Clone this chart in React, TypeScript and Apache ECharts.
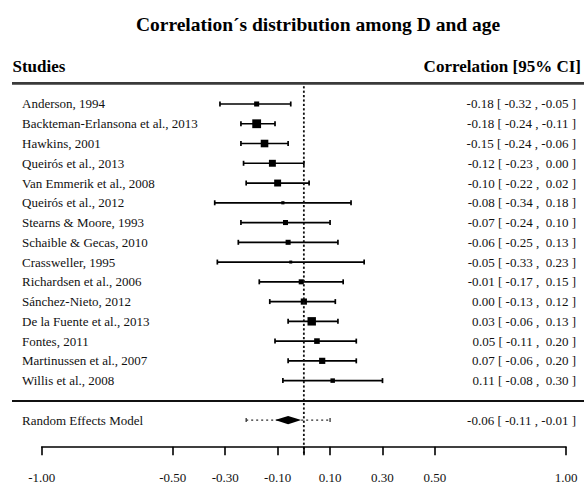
import React, { useEffect, useRef } from "react";
import * as echarts from "echarts";

const chartTitle = "Correlation\u00B4s distribution among D and age";
const leftHeader = "Studies";
const rightHeader = "Correlation [95% CI]";

const studies = [
  "Anderson, 1994",
  "Backteman-Erlansona et al., 2013",
  "Hawkins, 2001",
  "Queirós et al., 2013",
  "Van Emmerik et al., 2008",
  "Queirós et al., 2012",
  "Stearns & Moore, 1993",
  "Schaible & Gecas, 2010",
  "Crassweller, 1995",
  "Richardsen et al., 2006",
  "Sánchez-Nieto, 2012",
  "De la Fuente et al., 2013",
  "Fontes, 2011",
  "Martinussen et al., 2007",
  "Willis et al., 2008",
];
const estimates = [-0.18, -0.18, -0.15, -0.12, -0.1, -0.08, -0.07, -0.06, -0.05, -0.01, 0.0, 0.03, 0.05, 0.07, 0.11];
const ciLower = [-0.32, -0.24, -0.24, -0.23, -0.22, -0.34, -0.24, -0.25, -0.33, -0.17, -0.13, -0.06, -0.11, -0.06, -0.08];
const ciUpper = [-0.05, -0.11, -0.06, 0.0, 0.02, 0.18, 0.1, 0.13, 0.23, 0.15, 0.12, 0.13, 0.2, 0.2, 0.3];
// estimated relative weights (%)
const weights = [5.6, 9.6, 8.3, 7.6, 7.6, 3.6, 5.6, 5.6, 3.4, 5.6, 6.8, 9.2, 6.2, 6.8, 5.0];

const reLabel = "Random Effects Model";
const reEstimate = -0.06;
const reLower = -0.11;
const reUpper = -0.01;
const piLower = -0.22;
const piUpper = 0.1;

const xMin = -1;
const xMax = 1;
const xTickValues = [-1, -0.5, -0.3, -0.1, 0, 0.1, 0.3, 0.5, 1];
const xLabelValues = [-1, -0.5, -0.3, -0.1, 0.1, 0.3, 0.5, 1];

const FONT = "'Liberation Serif', 'Times New Roman', serif";
const RE_ROW = 16;
const AXIS_ROW = 17.35;
const Y_MIN = -1;
const Y_MAX = 18;

const GRID = { left: 41.7, right: 18, top: 84.24, bottom: 24.36, containLabel: false, outerBoundsMode: "none" };

const fmt = (v: number) => (v < 0 ? "-" + Math.abs(v).toFixed(2) : "\u00A0" + v.toFixed(2));
const ciText = (e: number, l: number, u: number) => `${fmt(e)} [ ${fmt(l)} , ${fmt(u)} ]`;

const layerStyle: React.CSSProperties = { width: 584, height: 484, position: "absolute", left: 0, top: 0 };

export default function App() {
  const mainRef = useRef<HTMLDivElement>(null);
  const axisRef = useRef<HTMLDivElement>(null);
  const zeroRef = useRef<HTMLDivElement>(null);

  useEffect(() => {
    if (!mainRef.current || !axisRef.current || !zeroRef.current) return;
    const chart = echarts.init(mainRef.current, undefined, { renderer: "svg" });
    const axisChart = echarts.init(axisRef.current, undefined, { renderer: "svg" });
    const zeroChart = echarts.init(zeroRef.current, undefined, { renderer: "svg" });

    const wMin = Math.min(...weights);
    const wMax = Math.max(...weights);
    const sizeOf = (w: number) => 3 + ((w - wMin) / (wMax - wMin)) * 5.8;

    const rowTexts = studies.map((s, i) => ({
      left: s,
      right: ciText(estimates[i], ciLower[i], ciUpper[i]),
      row: i,
    }));
    rowTexts.push({ left: reLabel, right: ciText(reEstimate, reLower, reUpper), row: RE_ROW });

    const mainOption: any = {
      animation: false,
      backgroundColor: "#fff",
      grid: GRID,
      xAxis: {
        type: "value",
        min: xMin,
        max: xMax,
        splitLine: { show: false },
        axisLine: { show: false },
        axisTick: { show: false },
        axisLabel: {
          customValues: xLabelValues,
          formatter: (v: number) => v.toFixed(2),
          fontFamily: FONT,
          fontSize: 13,
          color: "#111",
          margin: 11,
        },
      },
      yAxis: { type: "value", min: Y_MIN, max: Y_MAX, inverse: true, show: false },
      series: [
        {
          type: "custom",
          clip: false,
          silent: true,
          data: rowTexts.map((r) => [0, r.row]),
          renderItem: (params: any, api: any) => {
            const r = rowTexts[params.dataIndex];
            const y = api.coord([0, api.value(1)])[1];
            return {
              type: "group",
              children: [
                { type: "text", style: { text: r.left, x: 22, y, fill: "#111", font: `13px ${FONT}`, align: "left", verticalAlign: "middle" } },
                { type: "text", style: { text: r.right, x: 576, y, fill: "#111", font: `13px ${FONT}`, align: "right", verticalAlign: "middle" } },
              ],
            };
          },
        },
        {
          type: "custom",
          clip: false,
          silent: true,
          data: studies.map((_, i) => [ciLower[i], ciUpper[i], i]),
          encode: { x: [0, 1], y: 2 },
          renderItem: (params: any, api: any) => {
            const a = api.coord([api.value(0), api.value(2)]);
            const b = api.coord([api.value(1), api.value(2)]);
            const y = a[1];
            return {
              type: "group",
              children: [
                { type: "line", shape: { x1: a[0], y1: y, x2: b[0], y2: y }, style: { stroke: "#000", lineWidth: 1.7 } },
                { type: "line", shape: { x1: a[0], y1: y - 2.5, x2: a[0], y2: y + 2.5 }, style: { stroke: "#000", lineWidth: 1.7 } },
                { type: "line", shape: { x1: b[0], y1: y - 2.5, x2: b[0], y2: y + 2.5 }, style: { stroke: "#000", lineWidth: 1.7 } },
              ],
            };
          },
        },
        {
          type: "scatter",
          silent: true,
          clip: false,
          symbol: "rect",
          data: studies.map((_, i) => [estimates[i], i]),
          symbolSize: (_v: any, p: any) => sizeOf(weights[p.dataIndex]),
          itemStyle: { color: "#000", opacity: 1 },
          z: 3,
        },
        {
          type: "custom",
          clip: false,
          silent: true,
          data: [[piLower, piUpper, RE_ROW]],
          encode: { x: [0, 1], y: 2 },
          renderItem: (params: any, api: any) => {
            const a = api.coord([api.value(0), api.value(2)]);
            const b = api.coord([api.value(1), api.value(2)]);
            const y = a[1];
            const children: any[] = [
              { type: "rect", shape: { x: a[0] - 0.65, y: y - 2, width: 1.3, height: 4 }, style: { fill: "#333" } },
              { type: "rect", shape: { x: b[0] - 0.65, y: y - 2, width: 1.3, height: 4 }, style: { fill: "#333" } },
            ];
            for (let x = a[0]; x < b[0] - 1; x += 5) {
              children.push({ type: "rect", shape: { x, y: y - 0.65, width: 2, height: 1.3 }, style: { fill: "#333" } });
            }
            return { type: "group", children };
          },
        },
        {
          type: "custom",
          clip: false,
          silent: true,
          data: [[reLower, reEstimate, reUpper, RE_ROW]],
          encode: { x: [0, 1, 2], y: 3 },
          renderItem: (params: any, api: any) => {
            const l = api.coord([api.value(0), api.value(3)]);
            const m = api.coord([api.value(1), api.value(3)]);
            const u = api.coord([api.value(2), api.value(3)]);
            const y = l[1];
            return {
              type: "polygon",
              shape: { points: [[l[0], y], [m[0], y - 4.2], [u[0], y], [m[0], y + 4.2]] },
              style: { fill: "#000" },
              z2: 10,
            };
          },
          z: 4,
        },
      ],
      graphic: [
        {
          type: "text",
          style: { text: chartTitle, x: 318, y: 24, fill: "#000", font: `bold 19.5px ${FONT}`, align: "center", verticalAlign: "middle" },
        },
        {
          type: "text",
          style: { text: leftHeader, x: 12.5, y: 66, fill: "#000", font: `bold 17px ${FONT}`, align: "left", verticalAlign: "middle" },
        },
        {
          type: "text",
          style: { text: rightHeader, x: 581, y: 66, fill: "#000", font: `bold 17px ${FONT}`, align: "right", verticalAlign: "middle" },
        },
        { type: "rect", shape: { x: 12, y: 82.1, width: 572, height: 2.6 }, style: { fill: "#3a3a3a" } },
        { type: "rect", shape: { x: 12, y: 400.1, width: 572, height: 1.8 }, style: { fill: "#111" } },
      ],
    };
    chart.setOption(mainOption);

    // overlay layer: zero reference line (same grid and scales as the main chart)
    zeroChart.setOption({
      animation: false,
      grid: GRID,
      xAxis: { type: "value", min: xMin, max: xMax, show: false },
      yAxis: { type: "value", min: Y_MIN, max: Y_MAX, inverse: true, show: false },
      series: [
        {
          type: "custom",
          clip: false,
          silent: true,
          data: [[0, -0.9, AXIS_ROW + 0.4]],
          encode: { x: 0, y: [1, 2] },
          renderItem: (params: any, api: any) => {
            const a = api.coord([api.value(0), api.value(1)]);
            const b = api.coord([api.value(0), api.value(2)]);
            const children: any[] = [];
            for (let y = a[1]; y < b[1] - 1; y += 4.4) {
              children.push({ type: "rect", shape: { x: a[0] - 0.9, y, width: 1.8, height: 2.2 }, style: { fill: "#111" } });
            }
            return { type: "group", children };
          },
        },
      ],
    } as any);

    // overlay layer: the x axis line and ticks, drawn by ECharts' own axis
    axisChart.setOption({
      animation: false,
      grid: { left: 41.7, right: 18, top: 300, bottom: 484 - 446.8, containLabel: false, outerBoundsMode: "none" },
      xAxis: {
        type: "value",
        min: xMin,
        max: xMax,
        splitLine: { show: false },
        axisLine: { show: true, onZero: false, lineStyle: { color: "#000", width: 1.6 } },
        axisTick: { show: true, length: 8.5, customValues: xTickValues, lineStyle: { color: "#000", width: 1.6 } },
        axisLabel: { show: false },
      },
      yAxis: { type: "value", min: 0, max: 1, show: false },
      series: [{ type: "scatter", data: [], silent: true }],
    } as any);

    return () => {
      chart.dispose();
      axisChart.dispose();
      zeroChart.dispose();
    };
  }, []);

  return (
    <div style={{ position: "absolute", left: 0, top: 0, width: 584, height: 484 }}>
      <div ref={mainRef} style={layerStyle} />
      <div ref={zeroRef} style={{ ...layerStyle, pointerEvents: "none" }} />
      <div ref={axisRef} style={{ ...layerStyle, pointerEvents: "none" }} />
    </div>
  );
}
